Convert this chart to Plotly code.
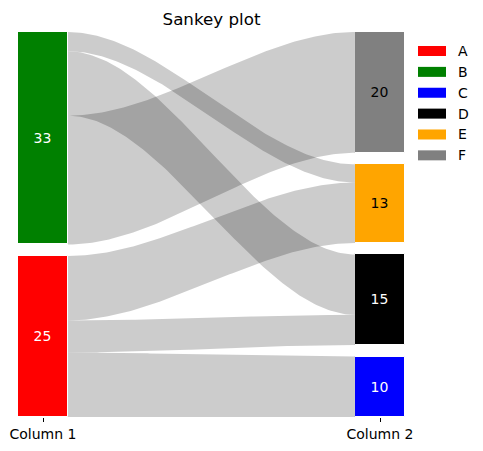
import numpy as np
import plotly.graph_objects as go

# ---- data ----
left_nodes = ["B", "A"]
left_values = [33, 25]
right_nodes = ["F", "E", "D", "C"]
right_values = [20, 13, 15, 10]
flow_src = ["B", "B", "B", "A", "A", "A"]
flow_dst = ["E", "D", "F", "E", "D", "C"]
flow_val = [3, 10, 20, 10, 5, 10]
legend_labels = ["A", "B", "C", "D", "E", "F"]
column_labels = ["Column 1", "Column 2"]

colors = {"A": "#ff0000", "B": "#008000", "C": "#0000ff",
          "D": "#000000", "E": "#ffa500", "F": "#808080"}
text_colors = {"A": "white", "B": "white", "C": "white",
               "D": "white", "E": "black", "F": "black"}

FONT = "DejaVu Sans"
W, H = 483, 451
L, R, T, B = 18, 78, 32, 34.3
GAP = 0.03
HW = 0.0742  # half bar width (x units, columns at 0 and 1)


def node_positions(nodes, values):
    unit = (1 - GAP * (len(nodes) - 1)) / sum(values)
    pos = {}
    top = 1.0
    for n, v in zip(nodes, values):
        pos[n] = (top - v * unit, top)
        top = top - v * unit - GAP
    return pos, unit


lpos, lunit = node_positions(left_nodes, left_values)
rpos, runit = node_positions(right_nodes, right_values)

fig = go.Figure()

# flows
lcur = {n: lpos[n][1] for n in left_nodes}
rcur = {n: rpos[n][1] for n in right_nodes}
t = np.linspace(0, 1, 120)
s = 3 * t**2 - 2 * t**3
xs = HW + (1 - 2 * HW) * t
for src, dst, v in zip(flow_src, flow_dst, flow_val):
    l_top = lcur[src]; l_bot = l_top - v * lunit; lcur[src] = l_bot
    r_top = rcur[dst]; r_bot = r_top - v * runit; rcur[dst] = r_bot
    top_curve = l_top + (r_top - l_top) * s
    bot_curve = l_bot + (r_bot - l_bot) * s
    fig.add_trace(go.Scatter(
        x=np.concatenate([xs, xs[::-1]]),
        y=np.concatenate([top_curve, bot_curve[::-1]]),
        fill="toself", fillcolor="rgba(0,0,0,0.2)", mode="lines",
        line=dict(width=0), hoverinfo="skip", showlegend=False))

# node bars
for col, (nodes, values, pos) in enumerate([(left_nodes, left_values, lpos),
                                            (right_nodes, right_values, rpos)]):
    for n, v in zip(nodes, values):
        lo, hi = pos[n]
        fig.add_trace(go.Bar(
            x=[col], y=[hi - lo], base=[lo], width=[2 * HW],
            marker=dict(color=colors[n], line=dict(width=1, color="white")),
            text=[str(v)], textposition="inside", insidetextanchor="middle",
            textangle=0, constraintext="none",
            textfont=dict(family=FONT, size=14, color=text_colors[n]),
            hoverinfo="skip", showlegend=False))

# legend (drawn manually to mimic wide patches)
plot_h = H - T - B
plot_w = W - L - R


def px_to_paper_x(px):
    return (px - L) / plot_w


def px_to_paper_y(py):
    return (H - B - py) / plot_h


shapes = []
annotations = []
for i, lab in enumerate(legend_labels):
    cy = 51 + i * 20.85
    shapes.append(dict(type="rect", xref="paper", yref="paper",
                       x0=px_to_paper_x(418), x1=px_to_paper_x(446),
                       y0=px_to_paper_y(cy + 5), y1=px_to_paper_y(cy - 5),
                       fillcolor=colors[lab], line=dict(width=0)))
    annotations.append(dict(xref="paper", yref="paper",
                            x=px_to_paper_x(456), y=px_to_paper_y(cy),
                            xanchor="left", yanchor="middle", showarrow=False,
                            text=lab, font=dict(family=FONT, size=14, color="black")))

fig.update_layout(
    width=W, height=H,
    margin=dict(l=L, r=R, t=T, b=B, pad=0, autoexpand=False),
    paper_bgcolor="white", plot_bgcolor="white",
    barmode="overlay", bargap=0,
    showlegend=False,
    title=dict(text="Sankey plot", x=px_to_paper_x(211.5), xref="paper", xanchor="center",
               yref="paper", y=1, yanchor="bottom", pad=dict(b=7),
               font=dict(family=FONT, size=16.7, color="black"), automargin=False),
    xaxis=dict(range=[-HW, 1 + HW], tickvals=[0, 1], ticktext=column_labels,
               ticks="outside", ticklen=4, tickwidth=1, tickcolor="black",
               showgrid=False, zeroline=False, showline=False, automargin=False,
               tickfont=dict(family=FONT, size=14, color="black")),
    yaxis=dict(range=[0, 1], visible=False, showgrid=False, zeroline=False),
    shapes=shapes, annotations=annotations,
)

fig.write_html("out.html", config={"displayModeBar": False},
               post_script="document.body.style.margin='0';")
